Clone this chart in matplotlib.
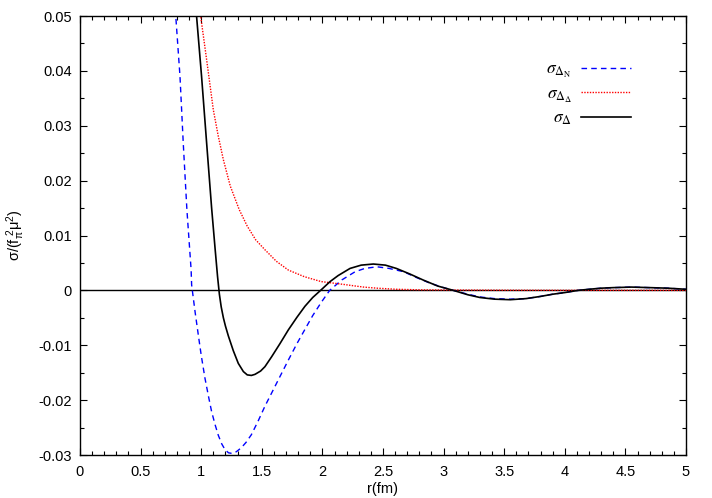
import matplotlib
matplotlib.use("Agg")
import matplotlib.pyplot as plt
from matplotlib.font_manager import FontProperties
from matplotlib.ticker import MultipleLocator

plt.rcParams['font.family'] = ['Liberation Sans', 'DejaVu Sans']
plt.rcParams['mathtext.fontset'] = 'custom'
plt.rcParams['mathtext.rm'] = 'Liberation Sans'
plt.rcParams['mathtext.it'] = 'Liberation Sans'

# sigma_Delta_N (blue dashed)
x_dn = [0.78, 0.79, 0.825, 0.852, 0.882, 0.917, 0.921, 0.95, 0.976, 1.00, 1.031, 1.06,
        1.086, 1.115, 1.141, 1.17, 1.196, 1.225, 1.251, 1.29, 1.33, 1.37, 1.414, 1.47,
        1.526, 1.595, 1.65, 1.719, 1.79, 1.856, 1.92, 1.99, 2.06, 2.16, 2.27, 2.35, 2.45,
        2.55, 2.67, 2.78, 2.89, 3.00, 3.08, 3.20, 3.30, 3.42, 3.55, 3.68, 3.80, 3.90,
        4.00, 4.11, 4.20, 4.30, 4.40, 4.55, 4.70, 4.85, 5.00]
y_dn = [0.0530, 0.0500, 0.0390, 0.0268, 0.0147, 0.0037, 0.0010, -0.0040, -0.0081, -0.0118,
        -0.0160, -0.0193, -0.0221, -0.0245, -0.0264, -0.0280, -0.0290, -0.0296, -0.0297,
        -0.0294, -0.0287, -0.0277, -0.0263, -0.0238, -0.0211, -0.0181, -0.0157, -0.0127,
        -0.0097, -0.0071, -0.0046, -0.0022, 0.0000, 0.0019, 0.0034, 0.0040, 0.0043,
        0.0040, 0.0034, 0.0023, 0.0013, 0.0005, 0.0000, -0.0007, -0.0012, -0.0015,
        -0.0016, -0.0015, -0.0011, -0.0007, -0.0004, 0.0000, 0.0002, 0.0004, 0.0005,
        0.0006, 0.0005, 0.0004, 0.0002]

# sigma_Delta_Delta (red dotted)
x_dd = [0.985, 0.996, 1.045, 1.10, 1.14, 1.183, 1.24, 1.314, 1.38, 1.45, 1.526, 1.62,
        1.719, 1.85, 1.99, 2.063, 2.17, 2.27, 2.34, 2.45, 2.61, 2.80, 3.00, 3.50, 4.00, 5.00]
y_dd = [0.0518, 0.0499, 0.0420, 0.0329, 0.0282, 0.0238, 0.0190, 0.0147, 0.0117, 0.0092,
        0.0074, 0.0053, 0.0037, 0.0025, 0.0016, 0.0014, 0.0011, 0.0008, 0.0006, 0.0004,
        0.0002, 0.0001, 0.00007, 0.00003, 0.00001, 0.0]

# sigma_Delta (black solid)
x_d = [0.955, 0.962, 1.003, 1.045, 1.086, 1.115, 1.135, 1.15, 1.165, 1.183, 1.20, 1.224,
       1.265, 1.306, 1.348, 1.38, 1.414, 1.444, 1.49, 1.526, 1.581, 1.65, 1.719, 1.79,
       1.856, 1.92, 1.99, 2.063, 2.13, 2.228, 2.32, 2.42, 2.52, 2.61, 2.72, 2.83, 2.95,
       3.08, 3.20, 3.30, 3.42, 3.55, 3.68, 3.80, 3.90, 4.00, 4.11, 4.20, 4.30, 4.40,
       4.55, 4.70, 4.85, 5.00]
y_d = [0.0520, 0.0499, 0.0390, 0.0268, 0.0150, 0.0075, 0.0025, -0.0007, -0.0030, -0.0050,
       -0.0065, -0.0083, -0.0110, -0.0133, -0.0148, -0.0154, -0.0155, -0.0153, -0.0147,
       -0.0139, -0.0121, -0.0097, -0.0072, -0.0049, -0.0029, -0.0013, 0.0001, 0.0016,
       0.0027, 0.0040, 0.0046, 0.0048, 0.0046, 0.0040, 0.0030, 0.0019, 0.0008, 0.0000,
       -0.0008, -0.0013, -0.0016, -0.0017, -0.0015, -0.0011, -0.0007, -0.0004, 0.0000,
       0.0002, 0.0004, 0.0005, 0.0006, 0.0005, 0.0004, 0.0002]

x_ticks = [0, 0.5, 1, 1.5, 2, 2.5, 3, 3.5, 4, 4.5, 5]
x_ticklabels = ['0', '0.5', '1', '1.5', '2', '2.5', '3', '3.5', '4', '4.5', '5']
y_ticks = [-0.03, -0.02, -0.01, 0, 0.01, 0.02, 0.03, 0.04, 0.05]
y_ticklabels = ['-0.03', '-0.02', '-0.01', '0', '0.01', '0.02', '0.03', '0.04', '0.05']

fig = plt.figure(figsize=(7.12, 4.98), dpi=100)
ax = fig.add_axes([80/712, 1-455/498, 606/712, 439/498])

ax.axhline(0, color='black', lw=1.0, zorder=1)
ax.plot(x_dn, y_dn, color='#0000ff', lw=1.0, linestyle=(0, (4, 3)),
        label=r'$\sigma_{\Delta_\mathrm{N}}$')
ax.plot(x_dd, y_dd, color='#ff0000', lw=1.0, linestyle=(0, (1, 1)),
        label=r'$\sigma_{\Delta_\Delta}$')
ax.plot(x_d, y_d, color='black', lw=1.2, label=r'$\sigma_{\Delta}$')

ax.set_xlim(0, 5)
ax.set_ylim(-0.03, 0.05)
ax.set_xticks(x_ticks)
ax.set_xticklabels(x_ticklabels)
ax.set_yticks(y_ticks)
ax.set_yticklabels(y_ticklabels)
ax.xaxis.set_minor_locator(MultipleLocator(0.1))
ax.yaxis.set_minor_locator(MultipleLocator(0.005))
ax.tick_params(which='both', direction='in', top=True, right=True, labelsize=10.5)
ax.tick_params(which='major', length=5, width=0.8)
ax.tick_params(which='minor', length=3, width=0.8)
ax.tick_params(axis='x', pad=7)
ax.tick_params(axis='y', pad=6)
for s in ax.spines.values():
    s.set_linewidth(1.0)

ax.set_xlabel('r(fm)', fontsize=10.5, labelpad=2)
ax.set_ylabel(r'σ/(f$_\pi^{\ 2}$μ$^2$)', fontsize=10.5, labelpad=8)

leg = ax.legend(loc='upper right', bbox_to_anchor=((631-80)/606, 1-(62-16)/439),
                frameon=False, markerfirst=False, handlelength=2.9, handletextpad=0.5,
                borderpad=0, borderaxespad=0, labelspacing=0.35,
                prop=FontProperties(family='Liberation Serif', size=12.5, math_fontfamily='stix'))

fig.savefig('out.png', dpi=100)
